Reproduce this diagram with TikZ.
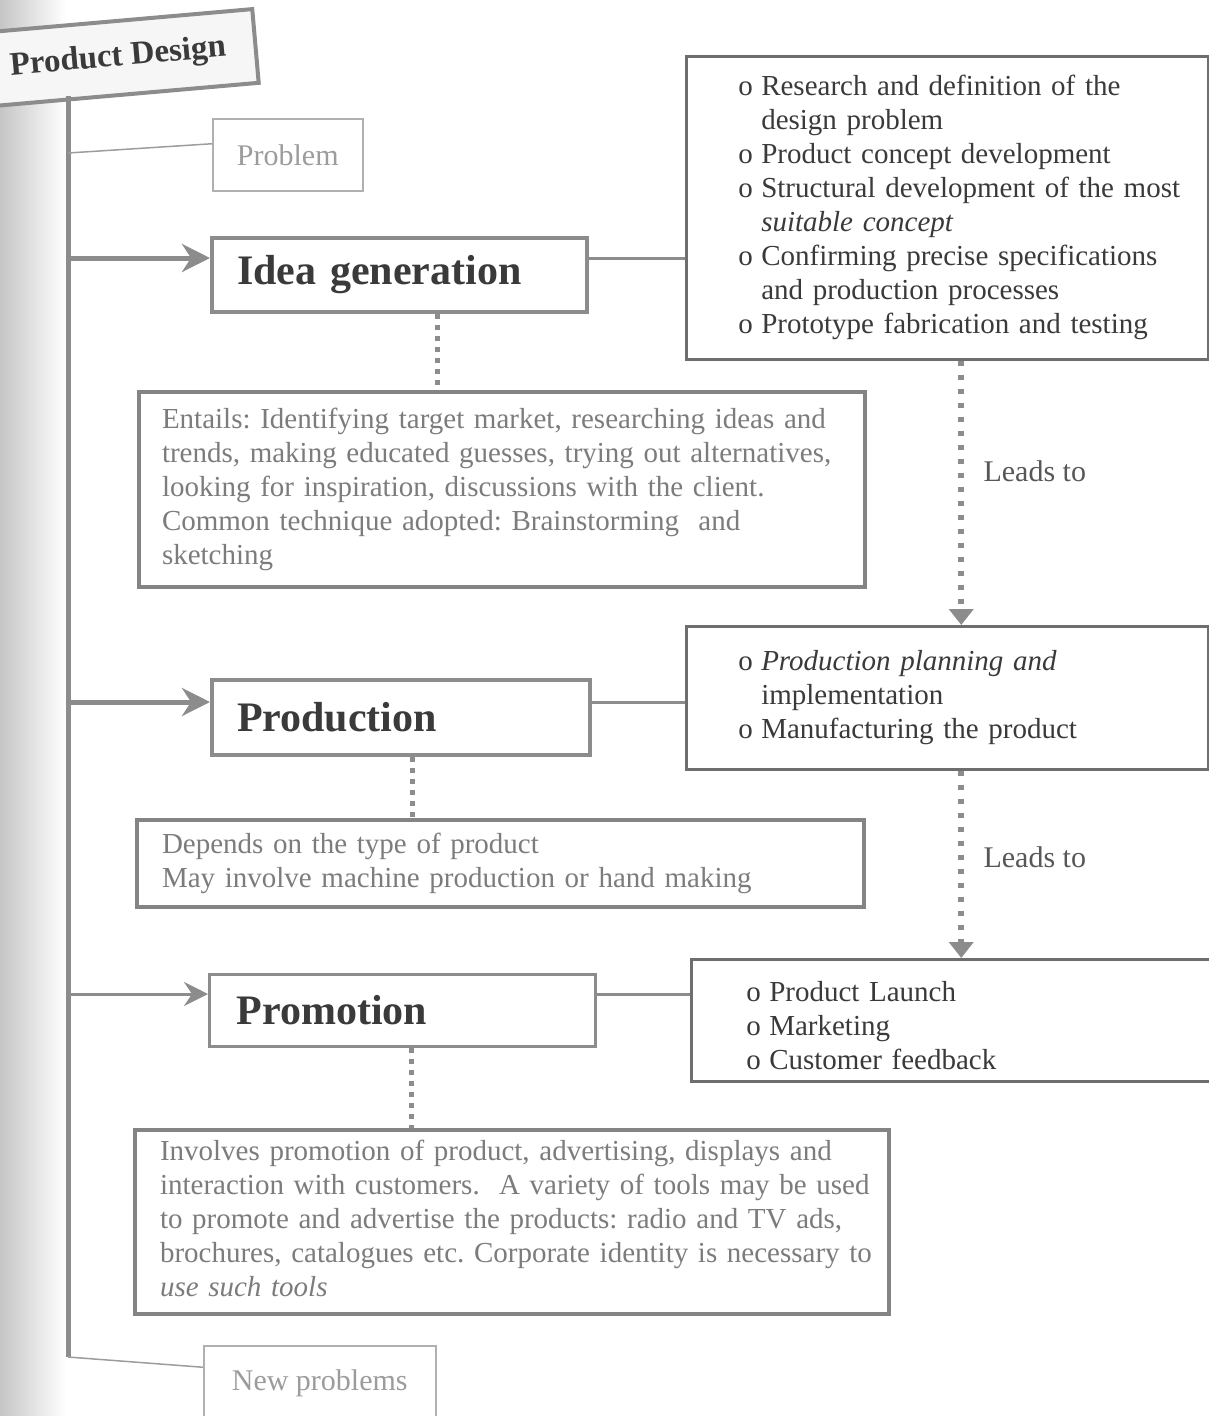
\documentclass[tikz,border=0pt]{standalone}
\usepackage{fontspec}
\setmainfont{Liberation Serif}
\usepackage{tikz}
\usetikzlibrary{arrows.meta,positioning,calc}
\frenchspacing
\definecolor{ink}{HTML}{3A3A3A}
\definecolor{pale}{HTML}{7C7C7C}
\definecolor{faint}{HTML}{9C9C9C}
\definecolor{edge}{HTML}{8C8C8C}
\definecolor{rim}{HTML}{6E6E6E}
\newcommand{\boxtext}[2]{\begin{tabular}{@{\hspace{#1}}l@{}}#2\end{tabular}}
\newcommand{\bul}{\makebox[23pt][l]{o}}
\newcommand{\gap}{\makebox[23pt]{}}
\tikzset{
  pdbox/.style={rectangle, draw=edge, fill=gray!7, line width=4pt, text=ink,
                minimum width=276pt, minimum height=74pt, font=\fontsize{33}{38}\selectfont\bfseries},
  titlebox/.style={rectangle, draw=edge, fill=white, line width=4pt, anchor=north west,
                   inner xsep=0pt, align=left, text=ink, minimum height=74pt,
                   font=\fontsize{42}{48}\selectfont\bfseries},
  notebox/.style={rectangle, draw=rim!85, fill=white, line width=4pt, anchor=north west,
                  inner xsep=0pt, align=left, text=pale, font=\fontsize{29}{34}\selectfont},
  listbox/.style={rectangle, draw=rim, fill=white, line width=2.5pt, anchor=north west,
                  inner xsep=0pt, align=left, text=ink, font=\fontsize{29}{34}\selectfont},
  faintbox/.style={rectangle, draw=faint!80, fill=white, line width=1.5pt, anchor=north west,
                   text=faint, font=\fontsize{30}{36}\selectfont},
  trunk/.style={draw=edge, line width=5pt},
  branch/.style={-{Stealth[length=28pt, width=28pt, inset=9pt]}, draw=edge, line width=5pt},
  link/.style={draw=edge, line width=3pt},
  thin/.style={draw=faint, line width=1.5pt},
  dots/.style={draw=edge, line width=5pt, dash pattern=on 5pt off 6pt},
  leads/.style={-{Triangle[length=16pt, width=24pt]}, draw=edge, line width=6pt, dash pattern=on 5pt off 9pt},
  lbl/.style={font=\fontsize{30}{36}\selectfont, text=ink!85}
}
\begin{document}
\begin{tikzpicture}[x=1pt, y=-1pt]
 \useasboundingbox (0,0) rectangle (1209,1416);
 \shade[left color=gray!45, right color=white] (0,0) rectangle (66,1416);

 \node[pdbox, rotate=5] (pd) at (118,58) {Product Design};
 \node[faintbox, minimum width=150pt, minimum height=72pt] (prob) at (212,118) {Problem};

 \node[titlebox, text width=375pt] (idea) at (210,236) {\hspace*{25pt}Idea generation};
 \node[listbox, text width=522pt, minimum height=303pt] (r1) at (685,55) {\boxtext{52pt}{%
   \bul Research and definition of the\\
   \gap design problem\\
   \bul Product concept development\\
   \bul Structural development of the most\\
   \gap \textit{suitable concept}\\
   \bul Confirming precise specifications\\
   \gap and production processes\\
   \bul Prototype fabrication and testing}};
 \node[notebox, text width=726pt, minimum height=195pt] (ent) at (137,390) {\boxtext{23pt}{%
   Entails: Identifying target market, researching ideas and\\
   trends, making educated guesses, trying out alternatives,\\
   looking for inspiration, discussions with the client.\\
   Common technique adopted: Brainstorming~ and\\
   sketching}};

 \node[titlebox, text width=378pt, minimum height=75pt] (prod) at (210,678) {\hspace*{25pt}Production};
 \node[listbox, text width=522pt, minimum height=143pt] (r2) at (685,625) {\boxtext{52pt}{%
   \bul \textit{Production planning and}\\
   \gap implementation\\
   \bul Manufacturing the product}};
 \node[notebox, text width=727pt, minimum height=87pt] (dep) at (135,818) {\boxtext{25pt}{%
   Depends on the type of product\\
   May involve machine production or hand making}};

 \node[titlebox, text width=386pt, minimum height=72pt, line width=3pt] (promo) at (208,973) {\hspace*{27pt}Promotion};
 \node[listbox, text width=522pt, minimum height=122pt, text depth=28pt] (r3) at (690,958) {\boxtext{55pt}{%
   \bul Product Launch\\
   \bul Marketing\\
   \bul Customer feedback}};
 \node[notebox, text width=754pt, minimum height=184pt] (inv) at (133,1128) {\boxtext{25pt}{%
   Involves promotion of product, advertising, displays and\\
   interaction with customers.~ A variety of tools may be used\\
   to promote and advertise the products: radio and TV ads,\\
   brochures, catalogues etc. Corporate identity is necessary to\\
   \textit{use such tools}}};

 \node[faintbox, minimum width=232pt, minimum height=75pt] (newp) at (203,1345) {New problems};

 % trunk and branches
 \coordinate (ttop) at (68,96);
 \coordinate (t0) at (68,153);
 \coordinate (t1) at (68,258);
 \coordinate (t2) at (68,702);
 \coordinate (t3) at (68,994);
 \coordinate (tbot) at (68,1357);
 \draw[trunk] (ttop) -- (tbot);
 \draw[thin] (t0) -- ([yshift=11pt]prob.west);
 \draw[branch] (t1) -- (t1 -| idea.west);
 \draw[branch] (t2) -- (t2 -| prod.west);
 \draw[branch, line width=3pt, -{Stealth[length=24pt, width=24pt, inset=8pt]}] (t3) -- (t3 -| promo.west);
 \draw[thin] (tbot) -- ([yshift=16pt]newp.west);

 \draw[link](idea.east |- t1)--(r1.west |- t1);\draw[link](prod.east |- t2)--(r2.west |- t2);\draw[link](promo.east |- t3)--(r3.west |- t3);
 \draw[dots] ([xshift=38pt]idea.south) -- ([xshift=38pt]idea.south |- ent.north);
 \draw[dots] ([xshift=11pt]prod.south) -- ([xshift=11pt]prod.south |- dep.north);
 \draw[dots] ([xshift=9pt]promo.south) -- ([xshift=9pt]promo.south |- inv.north);

 \draw[leads] ([xshift=14pt]r1.south) -- ([xshift=14pt]r1.south |- r2.north) node[lbl, pos=0.42, right=16pt] {Leads to};
 \draw[leads] ([xshift=14pt]r2.south) -- ([xshift=14pt]r2.south |- r3.north) node[lbl, pos=0.46, right=16pt] {Leads to};
\end{tikzpicture}
\end{document}
